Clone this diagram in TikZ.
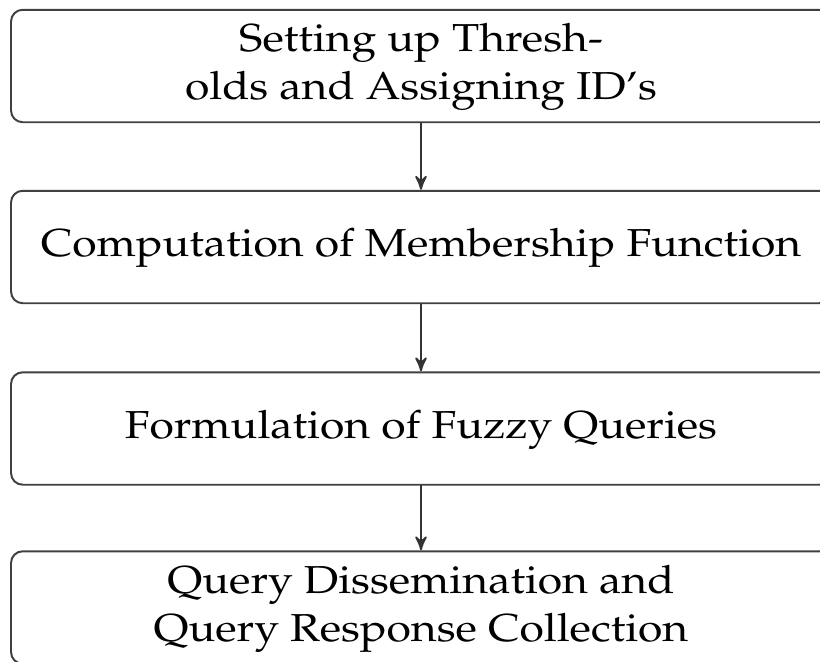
\documentclass[tikz,border=0pt]{standalone}
\usepackage[T1]{fontenc}
\usepackage{mathpazo}
\usepackage{graphicx}
\usepackage{tikz}
\usetikzlibrary{arrows}

% wide text as in the reference
\newcommand{\widetext}[1]{\scalebox{1.14}[1]{\begin{tabular}{@{}c@{}}#1\end{tabular}}}

\tikzset{
  stagebox/.style={draw=black!75, line width=0.6pt, rounded corners=3.6pt,
    minimum width=252.3pt, minimum height=34.6pt, align=center, inner sep=0pt,
    font=\fontsize{12}{14.8}\selectfont},
  flow/.style={->, draw=black!80, line width=0.6pt}
}

\begin{document}
\begin{tikzpicture}[line cap=round,line join=round,>=stealth',x=0.3077pt,y=-0.3077pt]
\useasboundingbox (0,0) rectangle (820,661);
\clip (0,0) rectangle (820,661);

\node[stagebox] (setup) at (421,66) {\widetext{Setting up Thresh-\\olds and Assigning ID's}};
\node[stagebox] (member) at (421,247) {\widetext{Computation of Membership Function}};
\node[stagebox] (fuzzy) at (421,428.5) {\widetext{Formulation of Fuzzy Queries}};
\node[stagebox] (dissem) at (421,607.5) {\widetext{Query Dissemination and\\Query Response Collection}};

\draw[flow] (setup) -- (member);
\draw[flow] (member) -- (fuzzy);
\draw[flow] (fuzzy) -- (dissem);
\end{tikzpicture}
\end{document}
